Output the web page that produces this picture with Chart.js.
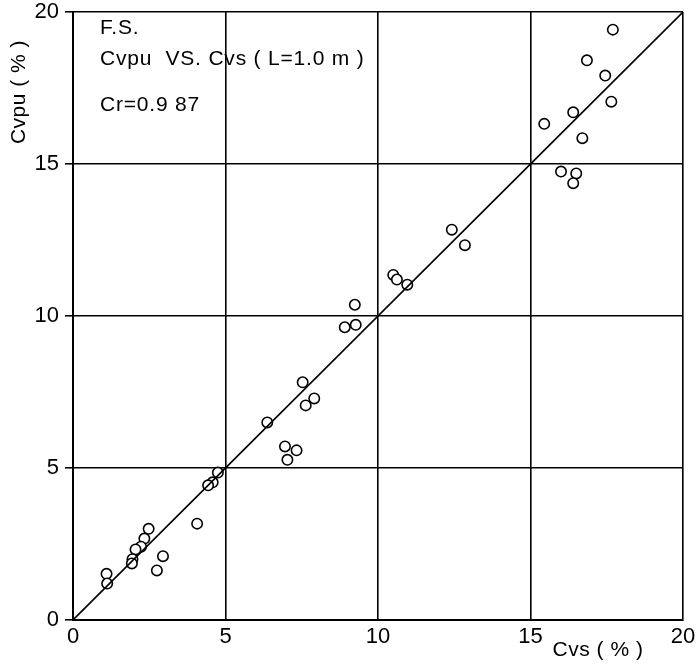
<!DOCTYPE html>
<html>
<head>
<meta charset="utf-8">
<script src="https://cdn.jsdelivr.net/npm/chart.js@4/dist/chart.umd.min.js"></script>
<style>
  html, body { margin: 0; padding: 0; background: #fff; }
  #wrap { width: 700px; height: 666px; }
</style>
</head>
<body>
<div id="wrap"><canvas id="cvChart" width="700" height="666"></canvas></div>
<script>
// Cvs (x) against Cvpu (y), both in %
const cvs = [17.7, 16.85, 17.45, 17.65, 16.4, 15.45, 16.7, 16.0, 16.5, 16.4,
  12.42, 12.85, 10.5, 10.62, 10.96,
  9.24, 8.91, 9.27,
  7.53, 7.91, 7.63,
  6.37,
  6.95, 7.33, 7.03,
  4.75, 4.58, 4.43, 4.07, 2.48, 2.34, 2.23, 2.05, 1.95, 1.93, 2.95, 2.75, 1.1, 1.12];
const cvpu = [19.42, 18.41, 17.91, 17.05, 16.7, 16.32, 15.85, 14.75, 14.69, 14.37,
  12.84, 12.33, 11.35, 11.2, 11.03,
  10.37, 9.63, 9.71,
  7.82, 7.29, 7.06,
  6.5,
  5.71, 5.58, 5.27,
  4.85, 4.53, 4.43, 3.17, 3.0, 2.68, 2.41, 2.32, 2.0, 1.86, 2.1, 1.63, 1.52, 1.2];
const axisTicks = [0, 5, 10, 15, 20];
const notes = ['F.S.', 'Cvpu  VS. Cvs ( L=1.0 m )', 'Cr=0.9 87'];

const points = cvs.map((x, i) => ({ x: x, y: cvpu[i] }));
const FONT = '"Liberation Sans", Arial, sans-serif';

// titles and the note block in the top-left corner
const textPlugin = {
  id: 'textPlugin',
  afterDraw(chart) {
    const c = chart.ctx;
    c.save();
    c.fillStyle = '#000';
    c.textBaseline = 'middle';
    c.font = '21px ' + FONT;
    c.letterSpacing = '0.8px';
    c.textAlign = 'left';
    c.fillText(notes[0], 100, 28);
    c.fillText(notes[1], 100, 59);
    c.fillText(notes[2], 100, 105);

    c.font = '21px ' + FONT;
    c.letterSpacing = '0.5px';
    c.textAlign = 'center';
    c.fillText('Cvs ( % )', 598, 650);

    c.translate(19, 92);
    c.rotate(-Math.PI / 2);
    c.fillText('Cvpu ( % )', 0, 0);
    c.restore();
  }
};

new Chart(document.getElementById('cvChart'), {
  type: 'scatter',
  data: {
    datasets: [{
      // 1:1 line
      type: 'line',
      data: [{ x: 0, y: 0 }, { x: 20, y: 20 }],
      borderColor: '#000',
      borderWidth: 1.6,
      pointRadius: 0,
      fill: false
    }, {
      data: points,
      pointRadius: 5.2,
      pointBorderWidth: 1.6,
      pointBorderColor: '#000',
      pointBackgroundColor: '#fff'
    }]
  },
  options: {
    responsive: false,
    animation: false,
    layout: { padding: { top: 12, right: 17, left: 0, bottom: 0 } },
    plugins: { legend: { display: false }, tooltip: { enabled: false } },
    scales: {
      x: {
        type: 'linear', min: 0, max: 20,
        afterBuildTicks: s => { s.ticks = axisTicks.map(v => ({ value: v })); },
        afterFit: s => { s.height = 46; s.paddingLeft = 0; s.paddingRight = 0; },
        grid: { color: '#000', lineWidth: 1.6, drawTicks: false },
        border: { color: '#000', width: 2 },
        ticks: { color: '#000', font: { family: FONT, size: 22 }, padding: 4, maxRotation: 0 }
      },
      y: {
        type: 'linear', min: 0, max: 20,
        // the top label may run above the plot, keep the plot where it is
        afterFit: s => { s.width = 73; s.paddingTop = 0; s.paddingBottom = 0; },
        afterBuildTicks: s => { s.ticks = axisTicks.map(v => ({ value: v })); },
        grid: { color: '#000', lineWidth: 1.6, tickLength: 8 },
        border: { color: '#000', width: 2 },
        ticks: { color: '#000', font: { family: FONT, size: 22 }, padding: 6 }
      }
    }
  },
  plugins: [textPlugin]
});
</script>
</body>
</html>
